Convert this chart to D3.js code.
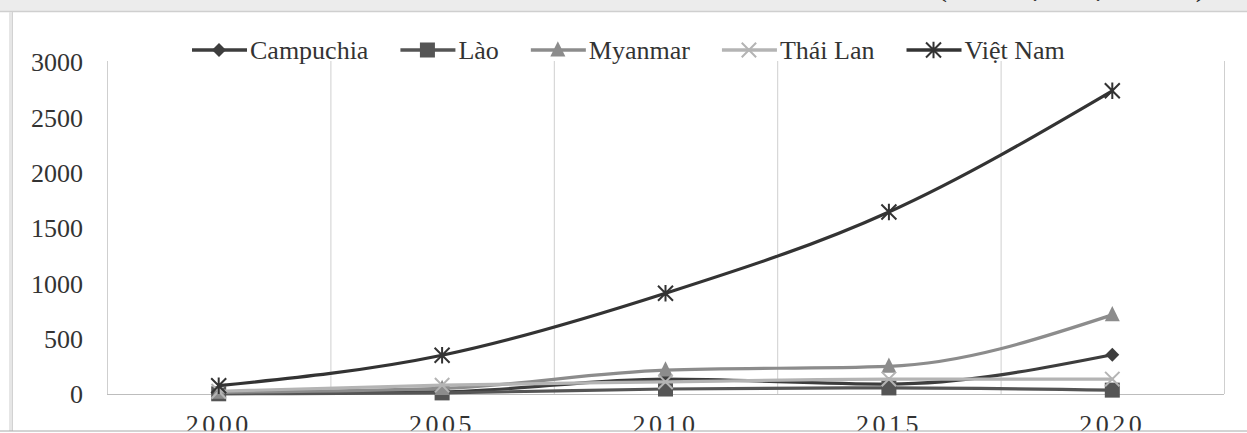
<!DOCTYPE html>
<html>
<head>
<meta charset="utf-8">
<script src="https://cdn.jsdelivr.net/npm/d3@7"></script>
<style>
  html, body { margin: 0; padding: 0; background: #fff; }
  svg { display: block; }
  svg text { font-family: "Liberation Serif", "Times New Roman", Tinos, "DejaVu Serif", serif !important; }
</style>
</head>
<body>
<svg id="chart" width="1247" height="433"></svg>
<script>
// Years on the category axis
const years = ["2000", "2005", "2010", "2015", "2020"];
// Series values (triệu USD)
const campuchia = [8, 20, 135, 90, 355];
const lao = [2, 10, 45, 55, 35];
const myanmar = [15, 50, 215, 250, 715];
const thaiLan = [25, 80, 110, 135, 135];
const vietNam = [75, 350, 910, 1645, 2740];
// Value-axis ticks
const yTicks = [0, 500, 1000, 1500, 2000, 2500, 3000];
const unitLabel = "(Đơn vị: triệu USD)";

const series = [
  { name: "Campuchia", values: campuchia, color: "#3d3d3d", marker: "diamond" },
  { name: "Lào",       values: lao,       color: "#555555", marker: "square" },
  { name: "Myanmar",   values: myanmar,   color: "#8c8c8c", marker: "triangle" },
  { name: "Thái Lan",  values: thaiLan,   color: "#b4b4b4", marker: "cross" },
  { name: "Việt Nam",  values: vietNam,   color: "#333333", marker: "asterisk" }
];

const FONT = "'Liberation Serif', 'Times New Roman', Tinos, 'DejaVu Serif', serif";
const W = 1247, H = 433;
const plot = { left: 107, right: 1224, top: 62, bottom: 394 };
const svg = d3.select("#chart");

// Page frame
svg.append("rect").attr("x", 0).attr("y", 0).attr("width", W).attr("height", 11).attr("fill", "#ececec");
svg.append("line").attr("x1", 0).attr("x2", W).attr("y1", 11.5).attr("y2", 11.5).attr("stroke", "#cfcfcf").attr("stroke-width", 1.5);
svg.append("rect").attr("x", 9).attr("y", 12).attr("width", 4).attr("height", H - 12).attr("fill", "#e6e6e6");
svg.append("line").attr("x1", 12.5).attr("x2", 12.5).attr("y1", 12).attr("y2", H).attr("stroke", "#d2d2d2").attr("stroke-width", 1);

// Unit note, only its lower edge shows at the top of the page
svg.append("text")
  .attr("x", 937).attr("y", -4)
  .attr("font-family", FONT)
  .attr("font-size", 30).attr("letter-spacing", 1.5)
  .attr("fill", "#222")
  .text(unitLabel);

const x = d3.scaleBand().domain(years).range([plot.left, plot.right]).padding(0);
const y = d3.scaleLinear().domain([0, 3000]).range([plot.bottom, plot.top]);

// Vertical gridlines at category boundaries
const bounds = years.map(d => x(d)).concat([x(years[years.length - 1]) + x.bandwidth()]);
svg.append("g").selectAll("line").data(bounds).join("line")
  .attr("x1", d => d + 0.5).attr("x2", d => d + 0.5)
  .attr("y1", plot.top - 1).attr("y2", plot.bottom)
  .attr("stroke", "#cfcfcf").attr("stroke-width", 1);

// Category axis line
svg.append("line")
  .attr("x1", plot.left).attr("x2", plot.right)
  .attr("y1", plot.bottom + 0.5).attr("y2", plot.bottom + 0.5)
  .attr("stroke", "#bdbdbd").attr("stroke-width", 1.2);

// Value axis labels
const yAxis = d3.axisLeft(y).tickValues(yTicks).tickSize(0).tickPadding(0).tickFormat(d3.format("d"));
const gy = svg.append("g").attr("transform", `translate(83,0)`).call(yAxis).attr("font-family", FONT);
gy.select(".domain").remove();
gy.selectAll("text")
  .attr("font-family", FONT)
  .attr("font-size", 26).attr("fill", "#333").attr("dy", "0.34em");

// Category axis labels
const xAxis = d3.axisBottom(x).tickSize(0).tickPadding(0);
const gx = svg.append("g").attr("transform", `translate(0,${plot.bottom})`).call(xAxis).attr("font-family", FONT);
gx.select(".domain").remove();
gx.selectAll("text")
  .attr("font-family", FONT)
  .attr("font-size", 26).attr("fill", "#333")
  .attr("letter-spacing", 3.5)
  .attr("dy", null).attr("y", 39);

// Marker shapes
function drawMarker(g, type, color, size) {
  const s = size;
  if (type === "diamond") {
    g.append("path").attr("d", d3.symbol(d3.symbolDiamond2, s * s * 0.55)()).attr("fill", color);
  } else if (type === "square") {
    g.append("rect").attr("x", -s / 2).attr("y", -s / 2).attr("width", s).attr("height", s).attr("fill", color);
  } else if (type === "triangle") {
    const h = s * 0.95;
    g.append("path").attr("d", `M0,${-h * 0.62}L${s / 2},${h * 0.45}L${-s / 2},${h * 0.45}Z`).attr("fill", color);
  } else if (type === "cross") {
    const r = s * 0.48;
    g.append("path").attr("d", `M${-r},${-r}L${r},${r}M${-r},${r}L${r},${-r}`)
      .attr("stroke", color).attr("stroke-width", 2).attr("fill", "none");
  } else if (type === "asterisk") {
    const r = s * 0.5;
    g.append("path").attr("d", `M${-r},${-r}L${r},${r}M${-r},${r}L${r},${-r}M0,${-r * 1.1}L0,${r * 1.1}`)
      .attr("stroke", color).attr("stroke-width", 2).attr("fill", "none");
  }
}

// Smoothed series lines
const line = d3.line()
  .x((d, i) => x(years[i]) + x.bandwidth() / 2)
  .y(d => y(d))
  .curve(d3.curveMonotoneX);

const gSeries = svg.append("g");
series.forEach(s => {
  const g = gSeries.append("g");
  g.append("path").attr("d", line(s.values))
    .attr("fill", "none").attr("stroke", s.color).attr("stroke-width", 3.2)
    .attr("stroke-linejoin", "round").attr("stroke-linecap", "round");
  s.values.forEach((v, i) => {
    const m = g.append("g").attr("transform", `translate(${x(years[i]) + x.bandwidth() / 2},${y(v)})`);
    drawMarker(m, s.marker, s.color, 15);
  });
});

// Legend
const legend = svg.append("g").attr("transform", "translate(192,50)");
let lx = 0;
series.forEach(s => {
  const item = legend.append("g").attr("transform", `translate(${lx},0)`);
  item.append("line").attr("x1", 0).attr("x2", 55).attr("y1", 0).attr("y2", 0)
    .attr("stroke", s.color).attr("stroke-width", 3.5);
  const m = item.append("g").attr("transform", "translate(27,0)");
  drawMarker(m, s.marker, s.color, 15);
  const t = item.append("text").attr("x", 58).attr("y", 9)
    .attr("font-family", FONT)
    .attr("font-size", 26).attr("fill", "#333").text(s.name);
  lx += 58 + t.node().getComputedTextLength() + 32;
});

// Lower page edge
svg.append("rect").attr("x", 0).attr("y", 431).attr("width", W).attr("height", 2).attr("fill", "#fff");
svg.append("line").attr("x1", 0).attr("x2", W).attr("y1", 431).attr("y2", 431).attr("stroke", "#a8a8a8").attr("stroke-width", 1);
</script>
</body>
</html>
